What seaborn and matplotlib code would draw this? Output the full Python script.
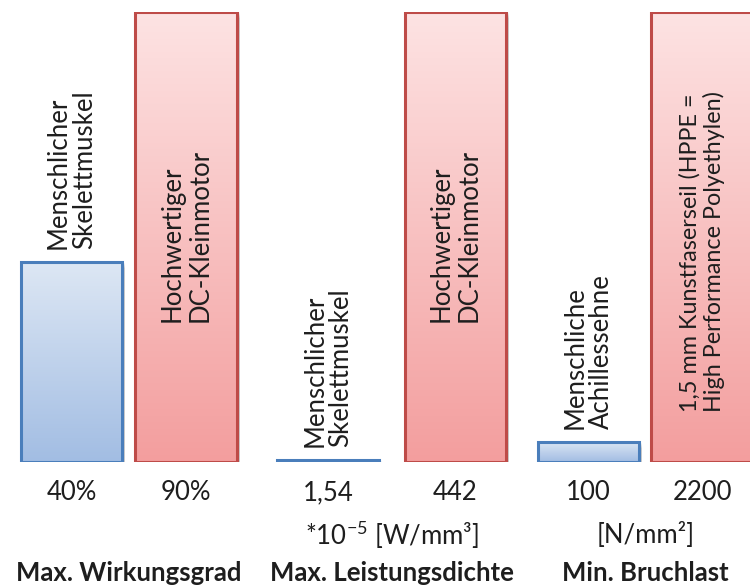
import numpy as np
import matplotlib
matplotlib.use("Agg")
import matplotlib.pyplot as plt
import matplotlib.patheffects as pe
from matplotlib.patches import Rectangle
import pandas as pd
import seaborn as sns

# ---- data -------------------------------------------------------------
groups = ["Max. Wirkungsgrad", "Max. Leistungsdichte", "Min. Bruchlast"]
group_units = ["", "*10$^{\\mathdefault{-5}}$ [W/mm³]", "[N/mm²]"]
items = [
    "Menschlicher\nSkelettmuskel",
    "Hochwertiger\nDC-Kleinmotor",
    "Menschlicher\nSkelettmuskel",
    "Hochwertiger\nDC-Kleinmotor",
    "Menschliche\nAchillessehne",
    "1,5 mm Kunstfaserseil (HPPE =\nHigh Performance Polyethylen)",
]
kinds = ["bio", "tech", "bio", "tech", "bio", "tech"]
group_index = [0, 0, 1, 1, 2, 2]
values = [40, 90, 1.54, 442, 100, 2200]
value_labels = ["40%", "90%", "1,54", "442", "100", "2200"]

# ---- layout / style ---------------------------------------------------
bar_pos = [71.5, 186, 328, 455.5, 588.5, 702]
tech_label_y = [None, 0.31, None, 0.31, None, 0.11]
label_size = [18.5, 18.5, 18.5, 18.5, 18.5, 16.8]
grad = {
    "bio": ("#dde7f4", "#a2bde3"),
    "tech": ("#fde3e3", "#f39e9e"),
}
edge = {"bio": "#4a7ebb", "tech": "#be4b48"}
text_color = "#1e1e1e"
FONT = "Lato"

sns.set_theme(style="white")
plt.rcParams["font.family"] = [FONT, "DejaVu Sans"]
plt.rcParams["mathtext.fontset"] = "custom"
plt.rcParams["mathtext.rm"] = FONT
plt.rcParams["mathtext.it"] = FONT
plt.rcParams["mathtext.bf"] = FONT + ":bold"

W, H, DPI = 750, 588, 100
base_px, top_px = 462, 12
fig = plt.figure(figsize=(W / DPI, H / DPI), dpi=DPI)
ax = fig.add_axes([0, (H - base_px) / H, 1, (base_px - top_px) / H])

# each comparison is scaled to its larger value
group_max = {}
for g, v in zip(group_index, values):
    group_max[g] = max(group_max.get(g, 0), v)
rel = [v / group_max[g] for g, v in zip(group_index, values)]

df = pd.DataFrame({"pos": bar_pos, "rel": rel, "kind": kinds})
sns.barplot(data=df, x="pos", y="rel", native_scale=True, width=0.89,
            color="white", errorbar=None, ax=ax, zorder=2)

pt = 72 / DPI  # points per pixel
shadow = []
for dx in (-1, 0, 1, 2, 3):
    for dy in (1, 2, 3, 4, 5, 6):
        shadow.append(pe.SimplePatchShadow(offset=(dx * pt, -dy * pt),
                                           shadow_rgbFace="black", alpha=0.035))
shadow.append(pe.Normal())

for patch, kind in zip(ax.patches, kinds):
    patch.set_linewidth(0)
    patch.set_path_effects(shadow)
    x0, y0 = patch.get_x(), patch.get_y()
    w, h = patch.get_width(), patch.get_height()
    top_c = np.array(matplotlib.colors.to_rgb(grad[kind][0]))
    bot_c = np.array(matplotlib.colors.to_rgb(grad[kind][1]))
    t = np.linspace(0, 1, 256)[:, None, None]
    img = top_c[None, None, :] * (1 - t) + bot_c[None, None, :] * t
    ax.imshow(img, extent=(x0, x0 + w, y0, y0 + h), origin="upper",
              aspect="auto", zorder=3, interpolation="bilinear")
    ax.add_patch(Rectangle((x0, y0), w, h, fill=False, edgecolor=edge[kind],
                           linewidth=2.2, zorder=4, joinstyle="miter"))

ax.set_xlim(0, W)
ax.set_ylim(0, 1)
ax.axis("off")

fs = 18.5
# item names (rotated)
for i, (x, r, name, kind) in enumerate(zip(bar_pos, rel, items, kinds)):
    if kind == "bio":
        ax.annotate(name, xy=(x, r), xytext=(0, 13 * pt), textcoords="offset points",
                    rotation=90, ha="center", va="bottom", multialignment="left",
                    fontsize=label_size[i], color=text_color, annotation_clip=False,
                    zorder=5, linespacing=1.05)
    else:
        ax.text(x, tech_label_y[i], name, rotation=90, ha="center", va="bottom",
                multialignment="left", fontsize=label_size[i], color=text_color,
                zorder=5, linespacing=1.15)

# values under the bars
for x, lab in zip(bar_pos, value_labels):
    ax.annotate(lab, xy=(x, 0), xytext=(0, -31 * pt), textcoords="offset points",
                ha="center", va="center", fontsize=fs, color=text_color,
                annotation_clip=False)

# units and group titles
for g, (title, unit) in enumerate(zip(groups, group_units)):
    xs = [x for x, gi in zip(bar_pos, group_index) if gi == g]
    xc = sum(xs) / len(xs)
    if unit:
        ax.annotate(unit, xy=(xc, 0), xytext=(0, -73 * pt), textcoords="offset points",
                    ha="center", va="center", fontsize=fs, color=text_color,
                    annotation_clip=False)
    ax.annotate(title, xy=(xc, 0), xytext=(0, -111 * pt), textcoords="offset points",
                ha="center", va="center", fontsize=fs, fontweight="bold",
                color=text_color, annotation_clip=False)

fig.savefig("out.png", dpi=DPI)
